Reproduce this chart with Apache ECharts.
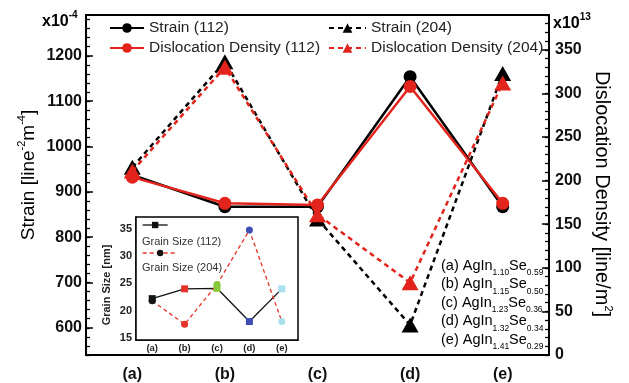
<!DOCTYPE html>
<html>
<head>
<meta charset="utf-8">
<script src="https://cdn.jsdelivr.net/npm/echarts@6/dist/echarts.min.js"></script>
<style>
  html, body { margin: 0; padding: 0; background: #fff; }
  #chart { width: 629px; height: 383px; }
</style>
</head>
<body>
<div id="chart"></div>
<script>
// Samples (a)–(e)
const samples = ['(a)', '(b)', '(c)', '(d)', '(e)'];

// Main panel: strain (x10^-4) and dislocation density (x10^13 line/m^2)
const strain112 = [937, 867, 867, 1154, 867];
const strain204 = [954, 1187, 840, 606, 1161];
const disloc112 = [204, 174, 172, 308, 174];
const disloc204 = [211, 330, 161, 83, 312];

// Inset: grain size in nm
const grain112 = [22.2, 24.0, 24.1, 18.0, 24.0];
const grain204 = [21.8, 17.5, 24.8, 34.8, 18.0];

// Tick labels
const strainTicks = [600, 700, 800, 900, 1000, 1100, 1200];
const dislocTicks = [0, 50, 100, 150, 200, 250, 300, 350];
const grainTicks = [15, 20, 25, 30, 35];

// Sample compositions: AgIn_x Se_y
const inContent = ['1.10', '1.15', '1.23', '1.32', '1.41'];
const seContent = ['0.59', '0.50', '0.36', '0.34', '0.29'];

const sampleColors = ['#141414', '#e5322a', '#86c836', '#3d4db3', '#a9e0ee'];

const FONT = 'Liberation Sans, Arial, sans-serif';
const RED = '#e2241c';
const INSET_RED = '#e8332b';

function range(a, b, step) {
  const out = [];
  for (let v = a; v <= b + 1e-9; v += step) out.push(v);
  return out;
}
const strainMinor = range(540, 1280, 20);
const dislocMinor = range(0, 390, 10);
const plain = v => String(v);

const chart = echarts.init(document.getElementById('chart'));

function legendFor(name, left, top, width) {
  return {
    data: [name], left: left, top: top, padding: 0, z: 20,
    itemWidth: width, itemHeight: 12, itemGap: 0,
    textStyle: { fontFamily: FONT, fontSize: 15.5, color: '#222' },
    selectedMode: false
  };
}

function iconLegend(name, top, width, lineStyle) {
  return {
    data: [name], left: 142, top: top, padding: 0, z: 20,
    itemWidth: width, itemHeight: 8, itemGap: 0,
    formatter: () => ' ', selectedMode: false,
    lineStyle: lineStyle,
    textStyle: { fontSize: 8, color: '#fff' }
  };
}

const compositionTexts = samples.map((s, i) => ({
  type: 'text', left: 441, top: 258 + i * 18.5, z: 50,
  style: {
    text: '{t|' + s + ' AgIn}{s|' + inContent[i] + '}{t|Se}{s|' + seContent[i] + '}',
    rich: {
      t: { fontFamily: FONT, fontSize: 14.5, color: '#333', lineHeight: 24, verticalAlign: 'middle' },
      s: { fontFamily: FONT, fontSize: 8.5, color: '#333', lineHeight: 10, verticalAlign: 'bottom' }
    }
  }
}));

const option = {
  animation: false,
  backgroundColor: '#fff',
  grid: [
    { left: 86, right: 80, top: 15, bottom: 26, show: true, borderColor: '#000', borderWidth: 2 },
    { left: 136, top: 217, width: 162, height: 123, show: true, borderColor: '#000', borderWidth: 1.5,
      backgroundColor: '#fff', z: 5 }
  ],
  legend: [
    legendFor('Strain (112)', 109, 20, 34),
    legendFor('Dislocation Density (112)', 109, 40, 34),
    legendFor('Strain (204)', 328, 20, 37),
    legendFor('Dislocation Density (204)', 328, 40, 37),
    iconLegend('Grain Size (112)', 221, 25, { color: '#111', width: 1.3 }),
    iconLegend('Grain Size (204)', 249, 35, { color: INSET_RED, width: 1.3, type: [4, 3] })
  ],
  xAxis: [
    {
      type: 'category', gridIndex: 0, data: samples, boundaryGap: true,
      axisLine: { lineStyle: { color: '#000', width: 2 } },
      axisTick: { alignWithLabel: true, length: 6, lineStyle: { color: '#000', width: 2 } },
      axisLabel: { fontFamily: FONT, fontSize: 16, fontWeight: 'bold', color: '#111', margin: 12 }
    },
    {
      type: 'category', gridIndex: 1, data: samples, boundaryGap: true,
      axisLine: { lineStyle: { color: '#000', width: 1.5 } },
      axisTick: { alignWithLabel: true, inside: true, length: 3, lineStyle: { color: '#000' } },
      axisLabel: { fontFamily: FONT, fontSize: 9.5, fontWeight: 'bold', color: '#222', margin: 3 }
    }
  ],
  yAxis: [
    {
      type: 'value', gridIndex: 0, position: 'left', min: 540, max: 1290,
      axisLine: { show: true, lineStyle: { color: '#000', width: 2 } },
      axisTick: { show: true, inside: true, length: 7, customValues: strainTicks, lineStyle: { color: '#000', width: 1.5 } },
      axisLabel: { customValues: strainTicks, formatter: plain, fontFamily: FONT, fontSize: 16, fontWeight: 'bold', color: '#111', margin: 4 },
      splitLine: { show: false }
    },
    {
      type: 'value', gridIndex: 0, position: 'left', min: 540, max: 1290,
      axisLine: { show: false },
      axisTick: { show: true, inside: true, length: 4, customValues: strainMinor, lineStyle: { color: '#000', width: 1.3 } },
      axisLabel: { show: false }, splitLine: { show: false }
    },
    {
      type: 'value', gridIndex: 0, position: 'right', min: 0, max: 390,
      axisLine: { show: true, lineStyle: { color: '#000', width: 2 } },
      axisTick: { show: true, inside: true, length: 7, customValues: dislocTicks, lineStyle: { color: '#000', width: 1.5 } },
      axisLabel: { customValues: dislocTicks, formatter: plain, fontFamily: FONT, fontSize: 16, fontWeight: 'bold', color: '#111', margin: 6 },
      splitLine: { show: false }
    },
    {
      type: 'value', gridIndex: 0, position: 'right', min: 0, max: 390,
      axisLine: { show: false },
      axisTick: { show: true, inside: true, length: 4, customValues: dislocMinor, lineStyle: { color: '#000', width: 1.3 } },
      axisLabel: { show: false }, splitLine: { show: false }
    },
    {
      type: 'value', gridIndex: 1, min: 14.6, max: 37.2,
      axisLine: { show: true, lineStyle: { color: '#000', width: 1.5 } },
      axisTick: { show: true, inside: true, length: 3, customValues: grainTicks, lineStyle: { color: '#000' } },
      axisLabel: { customValues: grainTicks, formatter: plain, fontFamily: FONT, fontSize: 11, fontWeight: 'bold', color: '#222', margin: 4 },
      splitLine: { show: false }
    }
  ],
  series: [
    {
      name: 'Strain (204)', type: 'line', xAxisIndex: 0, yAxisIndex: 0, data: strain204,
      symbol: 'triangle', symbolSize: [17, 15], z: 2,
      lineStyle: { color: '#000', width: 2.5, type: [5, 4] }, itemStyle: { color: '#000' }
    },
    {
      name: 'Strain (112)', type: 'line', xAxisIndex: 0, yAxisIndex: 0, data: strain112,
      symbol: 'circle', symbolSize: 13, z: 3,
      lineStyle: { color: '#000', width: 2.5 }, itemStyle: { color: '#000' }
    },
    {
      name: 'Dislocation Density (204)', type: 'line', xAxisIndex: 0, yAxisIndex: 2, data: disloc204,
      symbol: 'triangle', symbolSize: [17, 15], z: 4,
      lineStyle: { color: RED, width: 2.5, type: [5, 4] }, itemStyle: { color: RED }
    },
    {
      name: 'Dislocation Density (112)', type: 'line', xAxisIndex: 0, yAxisIndex: 2, data: disloc112,
      symbol: 'circle', symbolSize: 13, z: 5,
      lineStyle: { color: RED, width: 2.5 }, itemStyle: { color: RED }
    },
    {
      name: 'Grain Size (112)', type: 'line', xAxisIndex: 1, yAxisIndex: 4, z: 10,
      data: grain112.map((v, i) => ({ value: v, itemStyle: { color: sampleColors[i] } })),
      symbol: 'rect', symbolSize: 7,
      lineStyle: { color: '#111', width: 1.3 }, itemStyle: { color: '#111' }
    },
    {
      name: 'Grain Size (204)', type: 'line', xAxisIndex: 1, yAxisIndex: 4, z: 10,
      data: grain204.map((v, i) => ({ value: v, itemStyle: { color: sampleColors[i] } })),
      symbol: 'circle', symbolSize: 7,
      lineStyle: { color: INSET_RED, width: 1.3, type: [4, 3] }, itemStyle: { color: '#111' }
    }
  ],
  graphic: [
    {
      type: 'text', x: 27, y: 175, rotation: Math.PI / 2, z: 50,
      style: {
        text: '{t|Strain [line}{s|-2}{t|m}{s|-4}{t|]}', align: 'center', verticalAlign: 'middle',
        rich: {
          t: { fontFamily: FONT, fontSize: 19, color: '#222', lineHeight: 22, verticalAlign: 'bottom' },
          s: { fontFamily: FONT, fontSize: 11, color: '#222', lineHeight: 12, verticalAlign: 'top' }
        }
      }
    },
    {
      type: 'text', x: 603, y: 194, rotation: -Math.PI / 2, z: 50,
      style: {
        text: '{t|Dislocation Density [line/m}{s|2}{t|]}', align: 'center', verticalAlign: 'middle',
        rich: {
          t: { fontFamily: FONT, fontSize: 20, color: '#222', lineHeight: 22, verticalAlign: 'bottom' },
          s: { fontFamily: FONT, fontSize: 11, color: '#222', lineHeight: 12, verticalAlign: 'top' }
        }
      }
    },
    {
      type: 'text', x: 42, y: 20, z: 50,
      style: {
        text: '{b|x10}{s|-4}', verticalAlign: 'middle',
        rich: {
          b: { fontFamily: FONT, fontSize: 16, fontWeight: 'bold', color: '#111', lineHeight: 20, verticalAlign: 'bottom' },
          s: { fontFamily: FONT, fontSize: 10, fontWeight: 'bold', color: '#111', lineHeight: 10, verticalAlign: 'top' }
        }
      }
    },
    {
      type: 'text', x: 553, y: 22, z: 50,
      style: {
        text: '{b|x10}{s|13}', verticalAlign: 'middle',
        rich: {
          b: { fontFamily: FONT, fontSize: 16, fontWeight: 'bold', color: '#111', lineHeight: 20, verticalAlign: 'bottom' },
          s: { fontFamily: FONT, fontSize: 10, fontWeight: 'bold', color: '#111', lineHeight: 10, verticalAlign: 'top' }
        }
      }
    },
    {
      type: 'text', x: 107, y: 285, rotation: Math.PI / 2, z: 50,
      style: { text: 'Grain Size [nm]', align: 'center', verticalAlign: 'middle',
        font: 'bold 11px ' + FONT, fill: '#222' }
    },
    {
      type: 'text', x: 142, y: 242, z: 50,
      style: { text: 'Grain Size (112)', verticalAlign: 'middle', font: '11px ' + FONT, fill: '#333' }
    },
    {
      type: 'text', x: 142, y: 268, z: 50,
      style: { text: 'Grain Size (204)', verticalAlign: 'middle', font: '11px ' + FONT, fill: '#333' }
    }
  ].concat(compositionTexts)
};

chart.setOption(option);
</script>
</body>
</html>
